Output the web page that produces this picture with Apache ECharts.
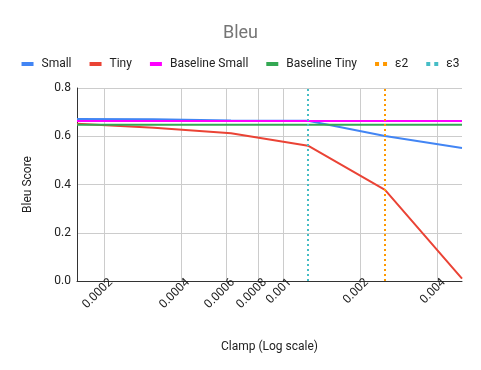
<!DOCTYPE html>
<html>
<head>
<meta charset="utf-8">
<script src="https://cdn.jsdelivr.net/npm/echarts@6/dist/echarts.min.js"></script>
<style>
  html, body { margin: 0; padding: 0; background: #fff; }
  #chart { width: 481px; height: 370px; }
</style>
</head>
<body>
<div id="chart"></div>
<script>
// clamp values (x, log scale)
const clampValues = [0.00015625, 0.0003125, 0.000625, 0.00125, 0.0025, 0.005];
const small = [0.671, 0.670, 0.665, 0.664, 0.601, 0.551];
const tiny = [0.652, 0.635, 0.612, 0.561, 0.378, 0.01];
const baselineSmall = [0.663, 0.663, 0.663, 0.663, 0.663, 0.663];
const baselineTiny = [0.648, 0.648, 0.648, 0.648, 0.648, 0.648];
// vertical markers
const eps2 = 0.0025;
const eps3 = 0.00125;
const yRange = [0, 0.8];
// tick labels on the x axis
const xTicks = [0.0002, 0.0004, 0.0006, 0.0008, 0.001, 0.002, 0.004];

const pairs = (ys) => clampValues.map((x, i) => [x, ys[i]]);
const vline = (x) => yRange.map((y) => [x, y]);

const dotsIcon = 'path://M0,0h4v4h-4zM8,0h4v4h-4z';

const chart = echarts.init(document.getElementById('chart'));
chart.setOption({
  animation: false,
  title: {
    text: 'Bleu',
    left: 'center',
    top: 19,
    textStyle: { fontFamily: 'Roboto', fontSize: 18, fontWeight: 'normal', color: '#757575' }
  },
  legend: {
    top: 53,
    left: 'center',
    itemWidth: 12,
    itemHeight: 4,
    itemGap: 18,
    textStyle: { fontFamily: 'Roboto', fontSize: 12, color: '#222', padding: [0, 0, 0, 3] },
    data: [
      { name: 'Small', icon: 'rect' },
      { name: 'Tiny', icon: 'rect' },
      { name: 'Baseline Small', icon: 'rect' },
      { name: 'Baseline Tiny', icon: 'rect' },
      { name: 'ε2', icon: dotsIcon },
      { name: 'ε3', icon: dotsIcon }
    ]
  },
  grid: { left: 77, right: 19, top: 88, bottom: 89 },
  xAxis: {
    type: 'log',
    logBase: 2,
    min: clampValues[0],
    max: clampValues[clampValues.length - 1],
    name: 'Clamp (Log scale)',
    nameLocation: 'middle',
    nameGap: 60,
    nameTextStyle: { fontFamily: 'Roboto', fontSize: 12, color: '#222' },
    axisLine: { lineStyle: { color: '#333' } },
    axisTick: { show: false, customValues: xTicks },
    axisLabel: {
      customValues: xTicks,
      rotate: 45,
      margin: 6,
      padding: [0, -9, 0, 0],
      fontFamily: 'Roboto',
      fontSize: 12,
      color: '#222',
      formatter: (v) => String(+v.toPrecision(6))
    },
    splitLine: { show: true, lineStyle: { color: '#ccc' } }
  },
  yAxis: {
    type: 'value',
    min: yRange[0],
    max: yRange[1],
    interval: 0.2,
    name: 'Bleu Score',
    nameLocation: 'middle',
    nameGap: 43,
    nameTextStyle: { fontFamily: 'Roboto', fontSize: 12, color: '#222' },
    axisLine: { show: true, lineStyle: { color: '#333' } },
    axisTick: { show: false },
    axisLabel: {
      margin: 6,
      fontFamily: 'Roboto',
      fontSize: 12,
      color: '#222',
      formatter: (v) => v.toFixed(1)
    },
    splitLine: { lineStyle: { color: '#ccc' } }
  },
  series: [
    { name: 'Small', type: 'line', data: pairs(small), color: '#4285f4', showSymbol: false, lineStyle: { width: 2 } },
    { name: 'Tiny', type: 'line', data: pairs(tiny), color: '#ea4335', showSymbol: false, lineStyle: { width: 2 } },
    { name: 'Baseline Small', type: 'line', data: pairs(baselineSmall), color: '#ff00ff', showSymbol: false, lineStyle: { width: 2 } },
    { name: 'Baseline Tiny', type: 'line', data: pairs(baselineTiny), color: '#34a853', showSymbol: false, lineStyle: { width: 2 } },
    { name: 'ε2', type: 'line', data: vline(eps2), color: '#ff9900', showSymbol: false, lineStyle: { width: 2, type: [2, 3] } },
    { name: 'ε3', type: 'line', data: vline(eps3), color: '#46bdc6', showSymbol: false, lineStyle: { width: 2, type: [2, 3] } }
  ]
});
</script>
</body>
</html>
